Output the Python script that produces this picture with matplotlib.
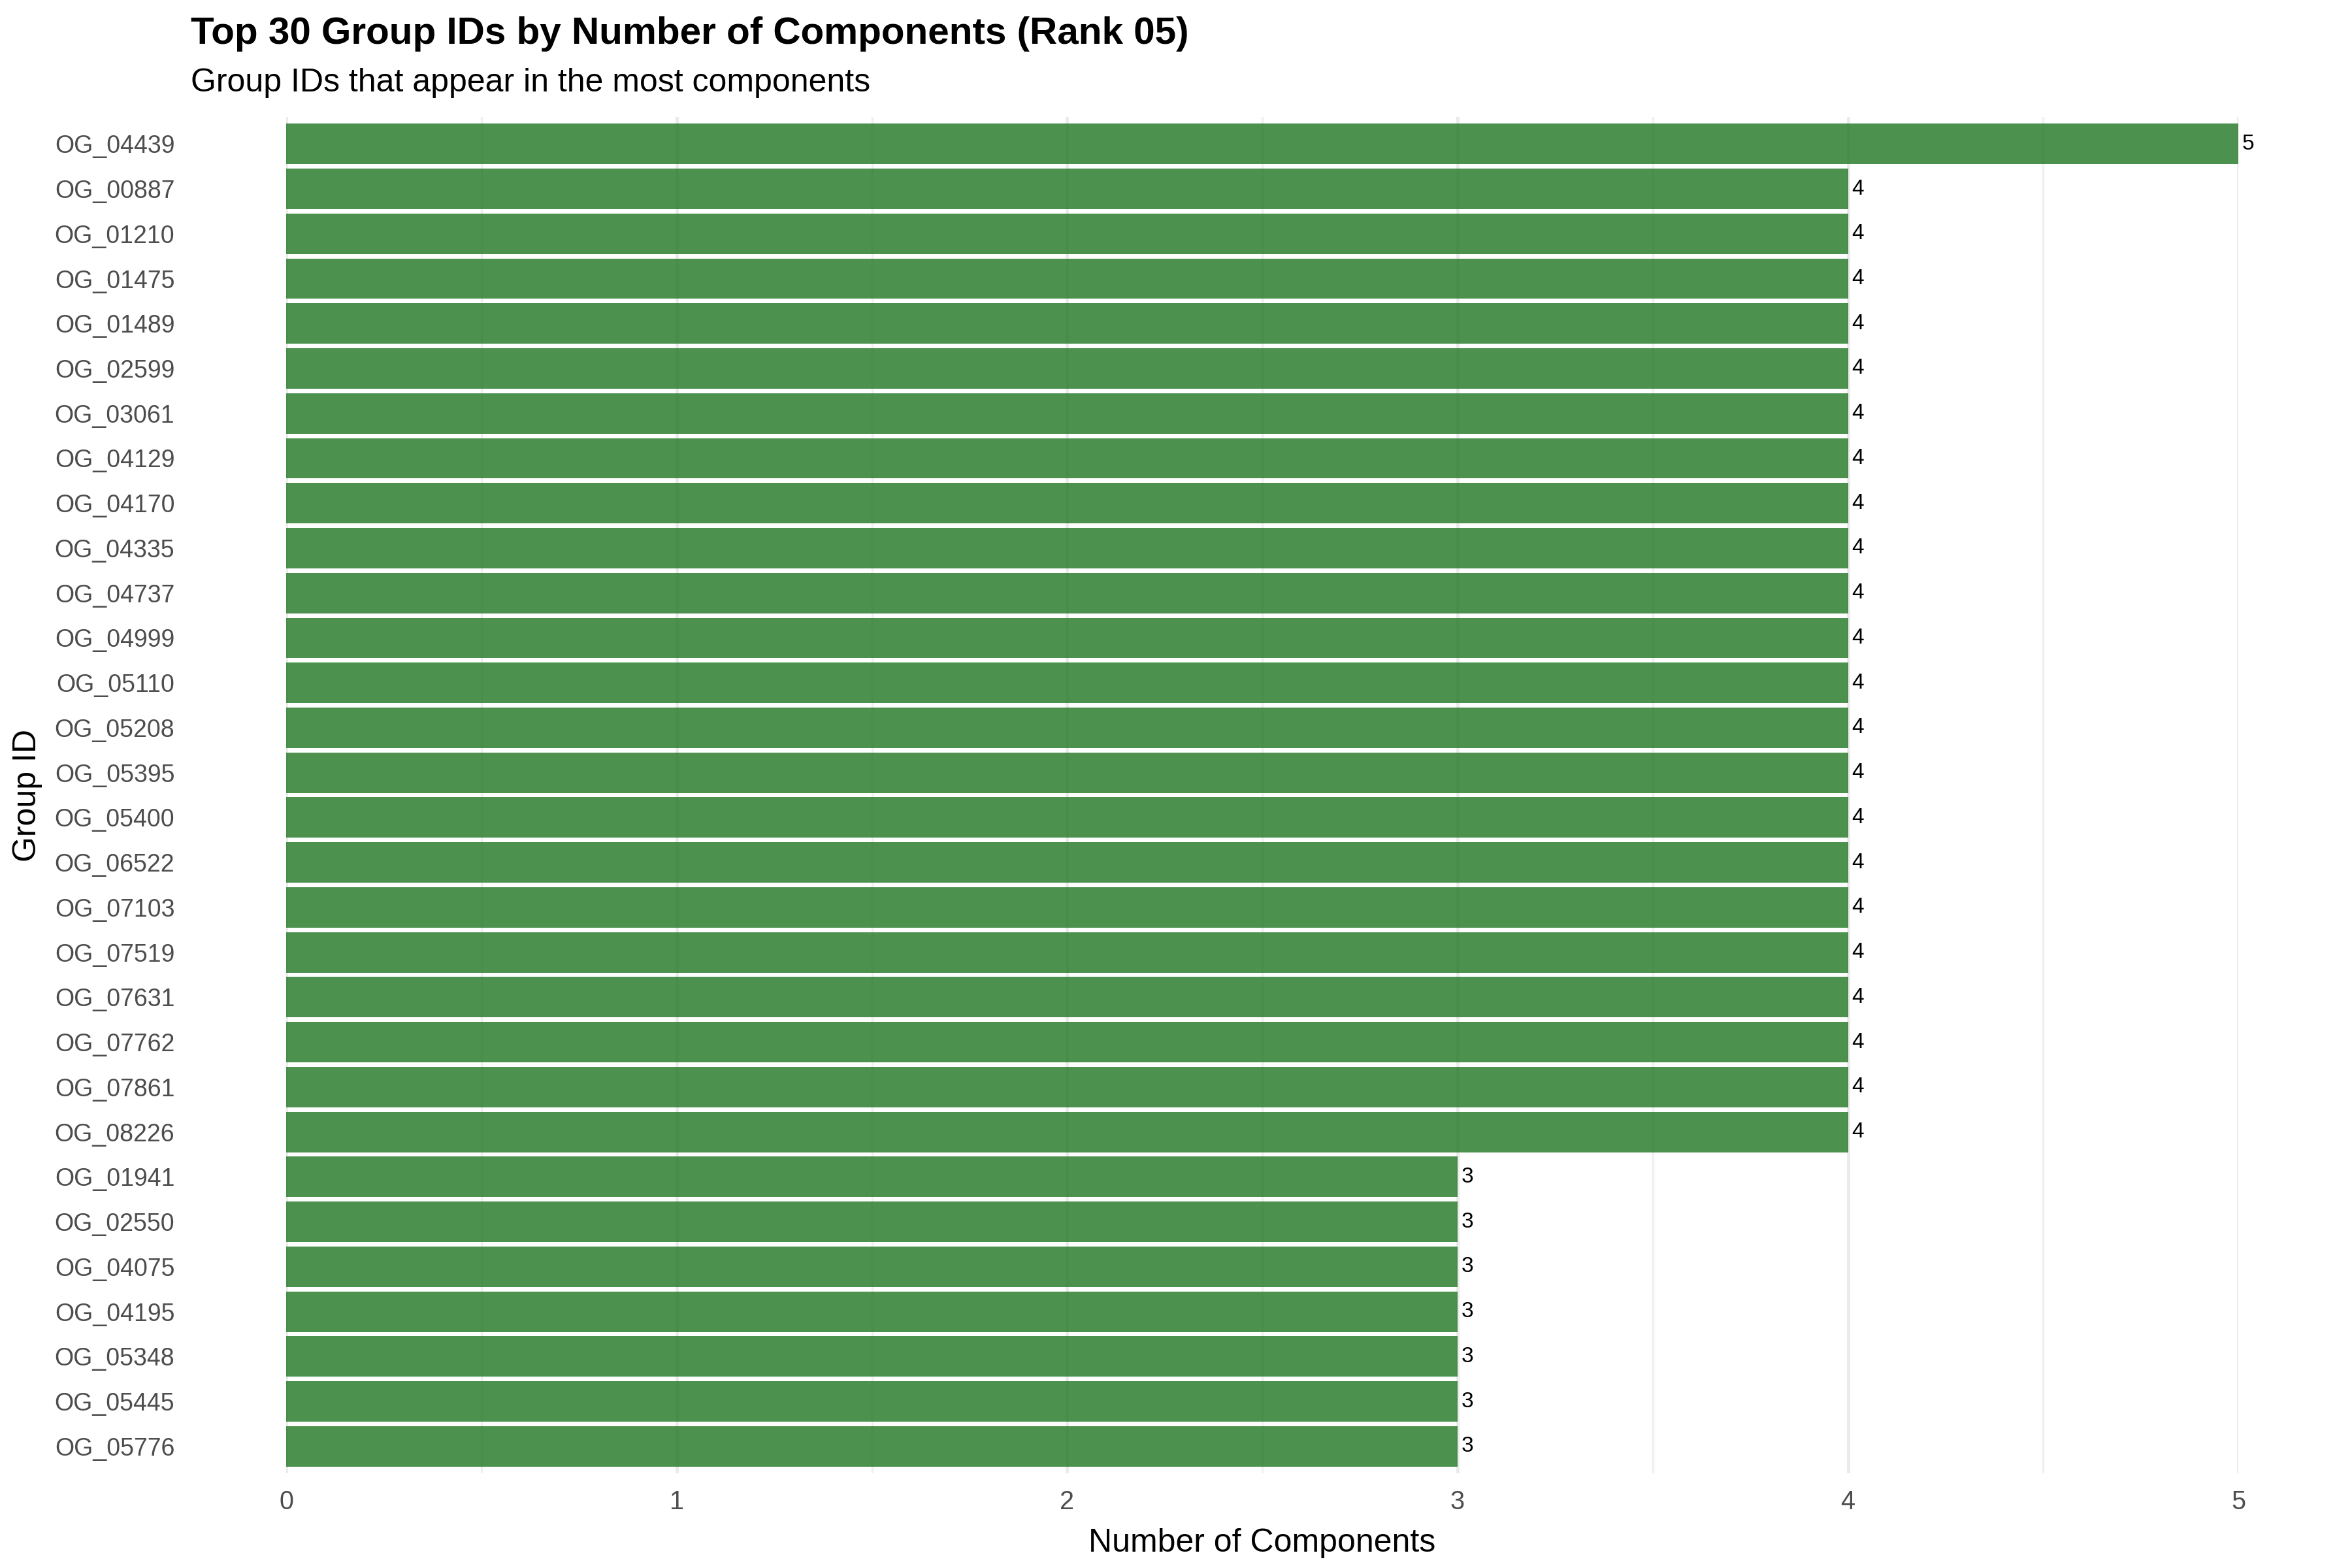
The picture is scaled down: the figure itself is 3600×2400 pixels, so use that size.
import numpy as np
import matplotlib
matplotlib.use("Agg")
import matplotlib.pyplot as plt

plt.rcParams['font.family'] = ['Liberation Sans', 'DejaVu Sans']

group_ids = ['OG_04439', 'OG_00887', 'OG_01210', 'OG_01475', 'OG_01489', 'OG_02599',
             'OG_03061', 'OG_04129', 'OG_04170', 'OG_04335', 'OG_04737', 'OG_04999',
             'OG_05110', 'OG_05208', 'OG_05395', 'OG_05400', 'OG_06522', 'OG_07103',
             'OG_07519', 'OG_07631', 'OG_07762', 'OG_07861', 'OG_08226', 'OG_01941',
             'OG_02550', 'OG_04075', 'OG_04195', 'OG_05348', 'OG_05445', 'OG_05776']
n_components = [5, 4, 4, 4, 4, 4, 4, 4, 4, 4, 4, 4, 4, 4, 4, 4, 4, 4, 4, 4, 4, 4, 4,
                3, 3, 3, 3, 3, 3, 3]

fig = plt.figure(figsize=(12, 8), dpi=300)
ax = fig.add_axes([0.1217, 0.0604, 0.83, 0.865])

pos = np.arange(len(group_ids))
ax.barh(pos, n_components, height=0.9, color='#1F7622', alpha=0.8, zorder=2)
for p, v in zip(pos, n_components):
    ax.text(v + 0.01, p, str(v), ha='left', va='center', fontsize=8, color='black', zorder=3)

ax.set_xlim(0, 5)
ax.set_ylim(len(group_ids) - 0.4, -0.6)
ax.set_yticks(pos)
ax.set_yticklabels(group_ids)
ax.set_xticks([0, 1, 2, 3, 4, 5])
ax.set_xticks(np.arange(0.5, 5, 1), minor=True)

ax.grid(axis='x', which='major', color='#EBEBEB', linewidth=1.2, zorder=0)
ax.grid(axis='x', which='minor', color='#F0F0F0', linewidth=0.8, zorder=0)
ax.grid(axis='y', visible=False)
for s in ax.spines.values():
    s.set_visible(False)
ax.tick_params(axis='both', which='both', length=0)
ax.tick_params(axis='y', labelsize=9, labelcolor='#4D4D4D', pad=41)
ax.tick_params(axis='x', labelsize=9.5, labelcolor='#4D4D4D', pad=6)

ax.set_xlabel('Number of Components', fontsize=12, labelpad=5)
ax.set_ylabel('Group ID', fontsize=12)
ax.yaxis.set_label_coords(-0.125, 0.5)

fig.text(0.081, 0.972, 'Top 30 Group IDs by Number of Components (Rank 05)',
         fontsize=14, fontweight='bold', va='baseline', ha='left')
fig.text(0.081, 0.9417, 'Group IDs that appear in the most components',
         fontsize=12, va='baseline', ha='left')

fig.savefig('out.png', dpi=300, facecolor='white')
